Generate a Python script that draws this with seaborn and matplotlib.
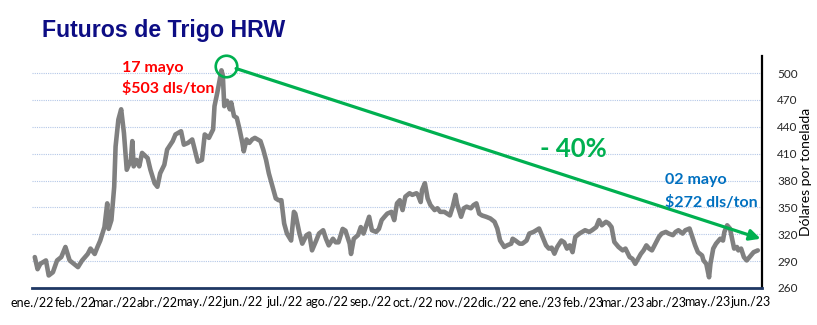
import numpy as np
import pandas as pd
import matplotlib
matplotlib.use("Agg")
import matplotlib.pyplot as plt
import matplotlib.dates as mdates
from matplotlib import transforms
import seaborn as sns

# ---------------- data ----------------
fecha_base = "2022-01-01"
dias = [2, 4, 6, 10, 12, 15, 18, 21, 24, 27, 30, 33, 36, 40, 42, 45, 47, 49, 52, 54,
        55, 57, 59, 60, 62, 64, 66, 68, 70, 71, 72, 73, 75, 77, 79, 83, 85, 88, 90, 92,
        95, 97, 101, 103, 107, 109, 112, 115, 118, 119, 122, 124, 127, 130, 131, 133, 136,
        137, 138, 140, 142, 143, 145, 147, 149, 151, 152, 154, 156, 158, 160, 162, 164, 166,
        168, 170, 173, 175, 177, 179, 181, 183, 186, 188, 189, 192, 194, 197, 199, 201, 204,
        206, 209, 211, 213, 216, 218, 220, 223, 225, 228, 229, 231, 234, 236, 238, 240, 242,
        244, 247, 249, 251, 253, 255, 258, 260, 262, 264,
        266, 268, 271, 273, 276, 277, 279, 280, 282, 284, 286, 289, 291, 293, 296, 298, 300,
        302, 304, 305, 308, 310, 312, 315, 317, 319, 321, 323, 326, 329, 332, 334, 336, 339,
        341, 344, 345, 347, 350, 352, 355, 357, 360, 362, 364, 366, 369, 371, 373, 375, 377,
        380, 382, 384, 386, 388, 390, 393, 395, 397,
        400, 402, 405, 407, 409, 412, 414, 416, 418, 421, 424, 426, 429, 431, 433, 435, 437,
        439, 441, 443, 445, 448, 450, 452, 455, 457, 460, 462, 464, 467, 469, 472, 474, 476,
        478, 481, 482, 484, 486, 487, 489, 491, 494, 496, 497, 499, 501, 503, 504, 506, 507,
        509, 511, 513, 516, 518, 521]
precios = [294.5, 281, 287, 290.8, 274, 277.6, 290.8, 294.5, 305.8, 290.8, 287, 283.3, 290.8,
           298, 304, 298, 305.8, 313, 328, 354.5, 326, 335.8, 373, 418, 448, 459.5, 433, 392,
           399.5, 403, 424, 395.8, 403, 395.8, 410.8, 405, 392, 377, 373, 388, 397.6, 414.5,
           424, 431.4, 435, 420, 422, 425.8, 407, 401, 403, 431.4, 427.6, 437, 463, 478, 503,
           497, 463, 469, 459.5, 467, 452, 450, 437, 422, 412.6, 425.8, 422, 425.8, 427.6,
           425.8, 424, 414.5, 403, 388, 371, 360, 358, 358, 332, 320.8, 313, 345, 343, 320.8,
           309.5, 318.9, 320.8, 302, 313, 320.8, 324.5, 315, 307.6, 315, 311, 311, 326, 324,
           309.5, 298, 315, 319, 328, 320.8, 330, 339.5, 324.5, 322.6, 326, 335.8, 339.5, 343,
           345, 335.8, 354.5, 358,
           347, 362, 365.8, 364, 365.8, 364, 356, 369.5, 377, 360, 352.6, 347, 349, 345, 345,
           343, 341, 350.8, 364, 354.5, 339.5, 349, 350.8, 349, 352.6, 354.5, 343, 341, 339.5,
           337.6, 333.9, 326.4, 313, 305.8, 307.6, 309.5, 315, 313, 309.5, 309.5, 313, 320.8,
           322.6, 324.5, 326.4, 319, 307.6, 304, 305, 298.3, 305.8, 313, 311, 304, 307.6, 300,
           317, 320.8, 322.6, 324.5,
           322.6, 324.5, 328, 335.8, 330, 333.9, 332, 328, 311.4, 305.8, 302, 304, 294.5, 292.6,
           287, 292.6, 298, 302, 307.6, 304, 302, 311, 317, 320.8, 322.6, 320.8, 319, 322.6,
           324.5, 320.8, 324.5, 326.4, 317, 307.6, 300, 296.3, 290.8, 287, 272, 287, 304, 309.5,
           315, 313, 322.6, 330, 326.4, 311.4, 304, 305.8, 302, 304, 294.5, 290.8, 296.3, 300,
           302]
meses = ["ene./22", "feb./22", "mar./22", "abr./22", "may./22", "jun./22", "jul./22",
         "ago./22", "sep./22", "oct./22", "nov./22", "dic./22", "ene./23", "feb./23",
         "mar./23", "abr./23", "may./23", "jun./23"]
y_ticks = [260, 290, 320, 350, 380, 410, 440, 470, 500]
titulo = "Futuros de Trigo HRW"
texto_pico = ["17 mayo", "$503 dls/ton"]
texto_min = ["02 mayo", "$272 dls/ton"]
texto_cambio = "- 40%"
eje_y = "Dólares por tonelada"

# ---------------- style ----------------
sns.set_theme(style="white")
plt.rcParams["font.family"] = ["Lato", "DejaVu Sans"]

W, H = 817, 325
def fpx(x, y):
    return x / W, 1 - y / H

df = pd.DataFrame({
    "fecha": pd.Timestamp(fecha_base) + pd.to_timedelta(dias, unit="D"),
    "precio": precios,
})

fig = plt.figure(figsize=(W / 100, H / 100), dpi=100)
fig.patch.set_facecolor("white")
ax = fig.add_axes([32 / W, 1 - 288 / H, 730 / W, 232 / H])

sns.lineplot(data=df, x="fecha", y="precio", ax=ax, color="#808080", linewidth=3.3,
             solid_joinstyle="round", solid_capstyle="round")

# axes
base = pd.Timestamp(fecha_base)
ax.set_xlim(base, base + pd.Timedelta(days=524))
ax.set_ylim(260, 519)
ticks_x = pd.date_range("2022-01-01", "2023-06-01", freq="MS")
ax.set_xticks(ticks_x)
ax.set_xticklabels(meses)
ax.set_yticks(y_ticks)
ax.set_yticklabels([str(v) for v in y_ticks])
ax.yaxis.tick_right()
ax.yaxis.set_label_position("right")
ax.set_xlabel("")
ax.set_ylabel(eje_y, fontsize=10, color="#000000")
ax.yaxis.set_label_coords(1.052, 0.5)

ax.tick_params(axis="x", direction="in", length=4, width=1.4, color="#1f3864",
               labelsize=9, labelcolor="#000000", pad=6)
ax.tick_params(axis="y", length=0, labelsize=8.5, labelcolor="#262626", pad=11)

for s in ["left", "top"]:
    ax.spines[s].set_visible(False)
ax.spines["bottom"].set_color("#1f3864")
ax.spines["bottom"].set_linewidth(2.0)
ax.spines["right"].set_color("#000000")
ax.spines["right"].set_linewidth(1.6)

ax.grid(axis="y", color="#b4c7e7", linestyle=(0, (1, 1)), linewidth=0.8)
ax.grid(axis="x", visible=False)
ax.set_axisbelow(True)

# peak circle
i_max = df["precio"].idxmax()
i_min = df["precio"].idxmin()
f_max, p_max = df.loc[i_max, "fecha"], df.loc[i_max, "precio"]
circ_tr = transforms.offset_copy(ax.transData, fig=fig, x=3, y=3, units="points")
ax.plot([f_max], [p_max], marker="o", markersize=15.5, markerfacecolor="none",
        markeredgecolor="#00b050", markeredgewidth=1.9, transform=circ_tr,
        clip_on=False, zorder=5)

# arrow
ax.annotate("", xy=(base + pd.Timedelta(days=523), 315),
            xytext=(f_max + pd.Timedelta(days=10.5), 505),
            arrowprops=dict(arrowstyle="-|>", color="#00b050", lw=2.3,
                            mutation_scale=16, shrinkA=0, shrinkB=0),
            annotation_clip=False, zorder=6)

# texts
fig.text(*fpx(42, 37.5), titulo, fontsize=16.7, fontweight="bold", color="#0d0d84",
         family=["Liberation Sans", "DejaVu Sans"], va="baseline", ha="left")
fig.text(*fpx(122, 72), texto_pico[0], fontsize=11.5, fontweight="bold", color="#ff0000",
         va="baseline", ha="left")
fig.text(*fpx(122, 93), texto_pico[1], fontsize=11.5, fontweight="bold", color="#ff0000",
         va="baseline", ha="left")
fig.text(*fpx(665, 184), texto_min[0], fontsize=11.5, fontweight="bold", color="#0070c0",
         va="baseline", ha="left")
fig.text(*fpx(665, 207), texto_min[1], fontsize=11.5, fontweight="bold", color="#0070c0",
         va="baseline", ha="left")
fig.text(*fpx(540, 157), texto_cambio, fontsize=18.5, fontweight="bold", color="#00b050",
         va="baseline", ha="left")

fig.savefig("out.png", dpi=100, facecolor="white")
